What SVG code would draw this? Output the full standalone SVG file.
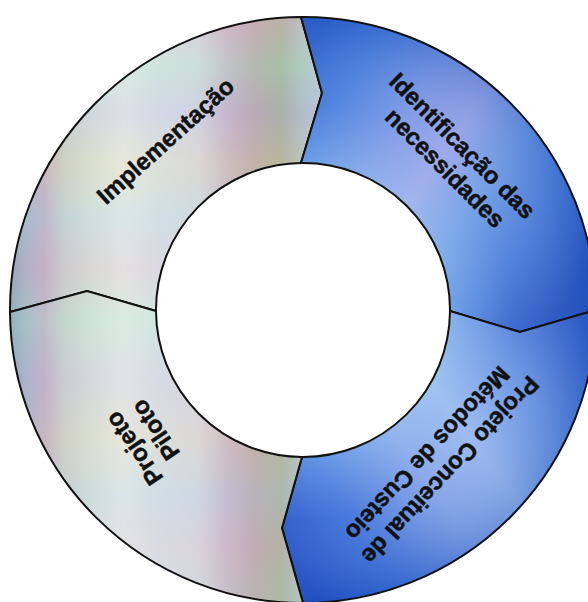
<svg xmlns="http://www.w3.org/2000/svg" width="588" height="602" viewBox="0 0 588 602">
  <defs>
    <linearGradient id="silver" gradientUnits="userSpaceOnUse" x1="10" y1="0" x2="325" y2="0">
      <stop offset="0" stop-color="#8299b2"/>
      <stop offset="0.05" stop-color="#9cadc0"/>
      <stop offset="0.11" stop-color="#bca9c2"/>
      <stop offset="0.17" stop-color="#c5ccc8"/>
      <stop offset="0.26" stop-color="#d4e0d6"/>
      <stop offset="0.36" stop-color="#e4eae4"/>
      <stop offset="0.48" stop-color="#d6e0e2"/>
      <stop offset="0.6" stop-color="#d4d6dc"/>
      <stop offset="0.7" stop-color="#c2b0c0"/>
      <stop offset="0.78" stop-color="#b4a2a4"/>
      <stop offset="0.86" stop-color="#a2aa92"/>
      <stop offset="0.93" stop-color="#acbcc0"/>
      <stop offset="1" stop-color="#b8c4d6"/>
    </linearGradient>
    <linearGradient id="sheen" gradientUnits="userSpaceOnUse" x1="0" y1="20" x2="0" y2="600">
      <stop offset="0" stop-color="#f0c0d8" stop-opacity="0.3"/>
      <stop offset="0.08" stop-color="#b8f0d0" stop-opacity="0.3"/>
      <stop offset="0.16" stop-color="#c8c0f0" stop-opacity="0.25"/>
      <stop offset="0.25" stop-color="#f0e0b8" stop-opacity="0.25"/>
      <stop offset="0.34" stop-color="#c0e0f0" stop-opacity="0.3"/>
      <stop offset="0.43" stop-color="#e8c0d8" stop-opacity="0.25"/>
      <stop offset="0.52" stop-color="#c0f0d8" stop-opacity="0.3"/>
      <stop offset="0.62" stop-color="#d8c8f0" stop-opacity="0.25"/>
      <stop offset="0.72" stop-color="#f0dcc0" stop-opacity="0.25"/>
      <stop offset="0.82" stop-color="#c0d8f0" stop-opacity="0.3"/>
      <stop offset="0.91" stop-color="#e8c8e0" stop-opacity="0.25"/>
      <stop offset="1" stop-color="#c8e8d8" stop-opacity="0.25"/>
    </linearGradient>
    <linearGradient id="blueTop" gradientUnits="userSpaceOnUse" x1="300" y1="60" x2="596" y2="260">
      <stop offset="0" stop-color="#2f66cf"/>
      <stop offset="0.15" stop-color="#4a82de"/>
      <stop offset="0.33" stop-color="#7f9ce6"/>
      <stop offset="0.48" stop-color="#9eaaea"/>
      <stop offset="0.62" stop-color="#74a0e6"/>
      <stop offset="0.8" stop-color="#4b80da"/>
      <stop offset="1" stop-color="#2352be"/>
    </linearGradient>
    <linearGradient id="blueBot" gradientUnits="userSpaceOnUse" x1="290" y1="560" x2="596" y2="340">
      <stop offset="0" stop-color="#2352c6"/>
      <stop offset="0.2" stop-color="#4276da"/>
      <stop offset="0.42" stop-color="#8aaaea"/>
      <stop offset="0.58" stop-color="#9cbcf0"/>
      <stop offset="0.76" stop-color="#6e9ae4"/>
      <stop offset="1" stop-color="#2a5cc8"/>
    </linearGradient>
    <radialGradient id="depth" gradientUnits="userSpaceOnUse" cx="303" cy="310" r="293">
      <stop offset="0.5" stop-color="#a8d8f8" stop-opacity="0.3"/>
      <stop offset="0.72" stop-color="#a8b0f0" stop-opacity="0.08"/>
      <stop offset="1" stop-color="#1848b0" stop-opacity="0.3"/>
    </radialGradient>
    <style>
      .seg { stroke: #111; stroke-width: 2; stroke-linejoin: miter; }
      .ov { stroke: none; }
      .lbl { font-family: "Liberation Sans", Arial, Helvetica, sans-serif; font-weight: bold; font-size: 24px; fill: #111; stroke: #111; stroke-width: 0.5; text-anchor: middle; }
    </style>
  </defs>
  <rect width="588" height="602" fill="#ffffff"/>

  <g id="implementacao">
    <path class="ov" fill="url(#silver)" d="M10,312 A293,293 0 0 1 301,17 L322,93 L301,163 A147,147 0 0 0 156,311 L87,291 Z"/>
    <path class="seg" fill="url(#sheen)" d="M10,312 A293,293 0 0 1 301,17 L322,93 L301,163 A147,147 0 0 0 156,311 L87,291 Z"/>
    <text class="lbl" transform="translate(171,147) rotate(-42)" x="0" y="0">Implementação</text>
  </g>

  <g id="identificacao">
    <path class="ov" fill="url(#blueTop)" d="M301,17 A293,293 0 0 1 596,310 L520,332 L450,311 A147,147 0 0 0 301,163 L322,93 Z"/>
    <path class="seg" fill="url(#depth)" d="M301,17 A293,293 0 0 1 596,310 L520,332 L450,311 A147,147 0 0 0 301,163 L322,93 Z"/>
    <text class="lbl" transform="translate(459,154) rotate(45)">
      <tspan x="0" y="0">Identificação das</tspan>
      <tspan x="0" y="28">necessidades</tspan>
    </text>
  </g>

  <g id="projeto-conceitual">
    <path class="ov" fill="url(#blueBot)" d="M596,310 A293,293 0 0 1 303,603 L282,528 L302,457 A147,147 0 0 0 450,311 L520,332 Z"/>
    <path class="seg" fill="url(#depth)" d="M596,310 A293,293 0 0 1 303,603 L282,528 L302,457 A147,147 0 0 0 450,311 L520,332 Z"/>
    <text class="lbl" transform="translate(442,467) rotate(133)">
      <tspan x="0" y="0">Projeto Conceitual de</tspan>
      <tspan x="0" y="28">Métodos de Custeio</tspan>
    </text>
  </g>

  <g id="projeto-piloto">
    <path class="ov" fill="url(#silver)" d="M303,603 A293,293 0 0 1 10,312 L87,291 L156,311 A147,147 0 0 0 302,457 L282,528 Z"/>
    <path class="seg" fill="url(#sheen)" d="M303,603 A293,293 0 0 1 10,312 L87,291 L156,311 A147,147 0 0 0 302,457 L282,528 Z"/>
    <text class="lbl" transform="translate(139,441) rotate(-124)">
      <tspan x="0" y="0">Projeto</tspan>
      <tspan x="0" y="28">Piloto</tspan>
    </text>
  </g>

  <g id="connectors"/>
</svg>
